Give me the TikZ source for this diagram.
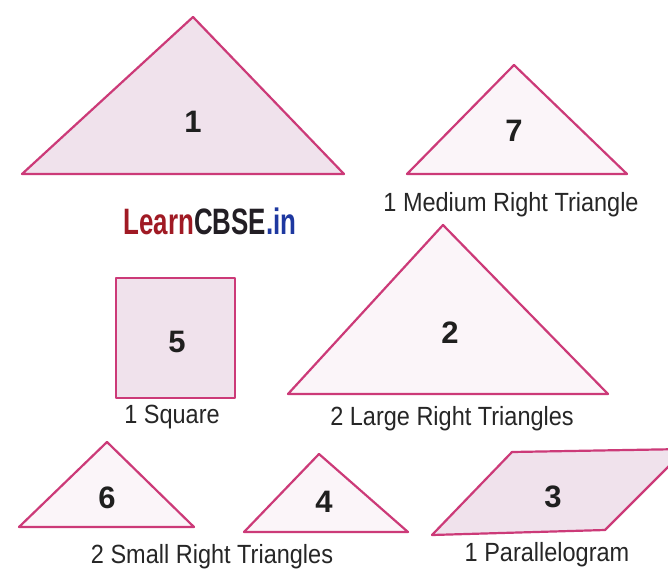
\documentclass[tikz,border=0pt]{standalone}
\usepackage{fontspec}
\setmainfont{Liberation Sans}
\definecolor{edgepink}{RGB}{204,58,120}
\definecolor{fillpink}{RGB}{240,226,236}
\definecolor{paleinside}{RGB}{251,245,249}
\definecolor{learnred}{RGB}{160,26,36}
\definecolor{cbsedark}{RGB}{34,30,36}
\definecolor{inblue}{RGB}{30,56,160}
\tikzset{
  piece/.style={draw=edgepink, line width=2.2pt, line join=round, fill=fillpink},
  palepiece/.style={piece, fill=paleinside},
  numlabel/.style={font=\fontsize{31}{34}\selectfont\bfseries, text=black!88},
  caption/.style={font=\fontsize{23.5}{27}\selectfont, text=black!85, yscale=1.12},
}
\begin{document}
\begin{tikzpicture}[x=1pt,y=-1pt]
\fill[white] (0,0) rectangle (668,569);
\useasboundingbox (0,0) rectangle (668,569);
\begin{scope}
\clip (0,0) rectangle (668,569);
% triangle 1
\draw[piece] (193,17) -- (344,174) -- (22,174) -- cycle;
\node[numlabel] (n1) at (193,122) {1};
% triangle 7
\draw[palepiece] (514,65) -- (627,174) -- (407,174) -- cycle;
\node[numlabel] (n7) at (514,131) {7};
\node[caption] (c7) at (511,205) {1 Medium Right Triangle};
% logo
\node[font=\fontsize{35}{37}\selectfont\bfseries, xscale=0.74, yscale=1.05, inner sep=0] (logo) at (210,221)
  {\textcolor{learnred}{Learn}\textcolor{cbsedark}{CBSE}\textcolor{inblue}{.in}};
% square 5
\draw[piece] (116,278) rectangle (235,398);
\node[numlabel] (n5) at (177,342) {5};
\node[caption] (c5) at (172,417) {1 Square};
% triangle 2
\draw[palepiece] (443,225) -- (608,394) -- (288,394) -- cycle;
\node[numlabel] (n2) at (450,333) {2};
\node[caption] (c2) at (452,419) {2 Large Right Triangles};
% triangle 6
\draw[palepiece] (107,442) -- (194,527) -- (19,527) -- cycle;
\node[numlabel] (n6) at (107,498) {6};
% triangle 4
\draw[palepiece] (319,454) -- (408,532) -- (244,532) -- cycle;
\node[numlabel] (n4) at (324,502) {4};
\node[caption] (c64) at (212,557) {2 Small Right Triangles};
% parallelogram 3
\draw[piece] (512,452) -- (686,449) -- (605,530) -- (432,535) -- cycle;
\node[numlabel] (n3) at (553,497) {3};
\node[caption] (c3) at (547,555) {1 Parallelogram};
\end{scope}
\end{tikzpicture}
\end{document}
